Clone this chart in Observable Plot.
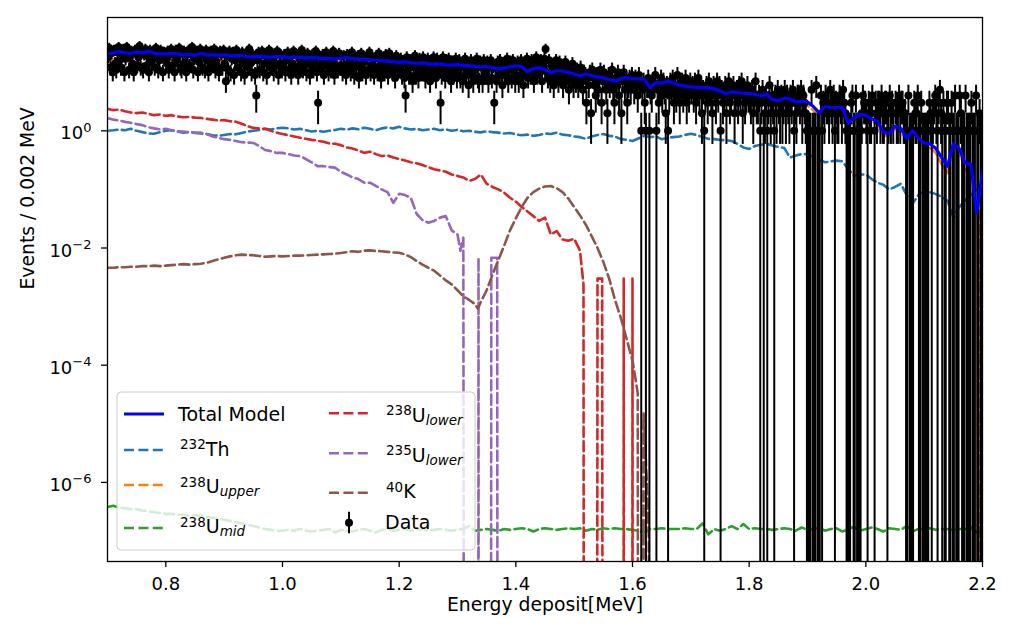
<!DOCTYPE html>
<html><head><meta charset="utf-8">
<script src="https://cdn.jsdelivr.net/npm/d3@7"></script>
<script src="https://cdn.jsdelivr.net/npm/@observablehq/plot@0.6"></script>
<style>
body{margin:0;background:#fff;font-family:"DejaVu Sans",sans-serif;}
#wrap{position:relative;width:1010px;height:631px;}
#legend{position:absolute;left:0;top:0;pointer-events:none;}
</style></head><body><div id="wrap"></div>
<script>
// ---------- data ----------
const energyGrid = d3.range(151).map(i => Math.round((0.70 + 0.01 * i) * 100) / 100);

const totalModel = [
 20.5,21.5,22.5,21.5,21,22,21.5,23,21,20.5,
 20.3,21,20.5,19.8,20.2,19.5,20.8,20,19.8,19.6,
 19.8,19.2,19,19.3,18.5,18.3,18.6,18.3,18.0,18.4,
 18.2,17.8,18.1,17.8,17.5,17.9,17.4,17.0,17.2,16.7,
 17.3,17.8,17.0,16.5,16.8,16.2,16.0,15.8,15.5,15.2,
 14.7,15.0,14.5,14.2,14.4,13.9,13.7,13.9,13.4,13.2,
 13.5,13.0,12.9,12.6,12.4,12.5,12.0,11.3,11.8,12.4,
 12.9,12.5,10.2,11.5,12.0,11.0,9.9,10.6,10.4,10.0,
 9.2,8.7,9.3,8.8,8.3,8.0,7.5,7.1,7.8,8.1,
 7.8,7.7,7.6,5.5,6.6,6.5,7.0,6.6,6.0,5.8,
 5.6,5.5,5.5,5.4,5.2,4.8,4.3,4.6,4.5,4.4,
 4.3,4.2,4.0,4.2,3.4,3.3,3.6,3.5,3.1,3.2,
 3.1,2.6,2.05,2.6,2.5,2.5,2.5,1.35,1.7,1.9,
 1.85,1.6,1.45,0.95,0.9,1.2,1.1,0.75,1.0,0.75,
 0.62,0.6,0.5,0.35,0.25,0.6,0.5,0.28,0.27,0.04,
 0.2];

const th232 = [
 1.00,1.02,1.05,1.02,1.08,1.0,0.95,0.9,0.89,0.95,
 1.0,1.02,0.97,0.93,0.95,0.92,0.9,0.88,0.84,0.82,
 0.85,0.88,0.87,0.92,0.97,1.0,1.03,1.08,1.05,1.1,
 1.13,1.1,1.05,1.08,1.02,0.97,1.0,0.96,1.0,1.03,
 1.08,1.05,1.1,1.06,1.13,1.08,1.02,1.1,1.14,1.1,
 1.17,1.1,1.05,1.08,1.02,1.05,1.08,1.02,1.06,1.0,
 1.04,0.98,1.0,0.96,0.94,0.98,0.95,0.93,0.9,0.92,
 0.87,0.84,0.86,0.82,0.85,0.9,0.88,0.93,0.86,0.84,
 0.8,0.78,0.73,0.8,0.85,0.88,0.82,0.8,0.72,0.7,
 0.67,0.74,0.82,0.78,0.8,0.72,0.76,0.78,0.8,0.85,
 0.89,0.85,0.78,0.73,0.72,0.7,0.69,0.67,0.6,0.52,
 0.49,0.55,0.58,0.6,0.56,0.53,0.51,0.35,0.38,0.4,
 0.4,0.36,0.32,0.29,0.3,0.31,0.3,0.22,0.17,0.18,
 0.18,0.15,0.13,0.12,0.10,0.11,0.125,0.08,0.057,0.08,
 0.095,0.09,0.083,0.075,0.064,0.033,0.05,0.064,0.08,0.1,
 0.09];

// 238U upper: 0.70 .. 2.17 on the grid, then a tail
const u238Upper = [
 15.5,16.7,17.6,16.9,16.5,17.7,17.2,19.0,17.2,16.6,
 16.4,17.1,16.8,16.2,16.6,16.0,17.3,16.6,16.6,16.5,
 16.7,16.2,16.0,16.4,15.7,15.6,15.9,15.7,15.5,15.9,
 15.8,15.5,15.9,15.6,15.4,15.9,15.5,15.1,15.3,14.8,
 15.4,16.0,15.2,14.8,15.1,14.5,14.5,14.2,13.9,13.7,
 13.1,13.5,13.1,12.8,13.1,12.6,12.4,12.6,12.1,12.0,
 12.3,11.9,11.8,11.5,11.3,11.4,10.9,10.3,10.8,11.4,
 11.9,11.6,9.2,10.5,11.0,10.0,8.9,9.5,9.4,9.1,
 8.3,7.9,8.5,8.0,7.4,7.1,6.7,6.3,7.1,7.4,
 7.1,7.0,6.8,4.7,5.8,5.8,6.2,5.8,5.2,4.9,
 4.7,4.65,4.7,4.7,4.5,4.1,3.6,3.9,3.9,3.9,
 3.8,3.65,3.4,3.6,2.85,2.8,3.1,3.15,2.7,2.8,
 2.7,2.25,1.73,2.3,2.2,2.2,2.2,1.13,1.53,1.72,
 1.67,1.45,1.32,0.83,0.8,1.09,0.98,0.67,0.94,0.67,
 0.52,0.51,0.42,0.27,0.19,0.57,0.45,0.22];
const u238UpperTailX = [2.175, 2.179, 2.194, 2.196, 2.2];
const u238UpperTailY = [0.2, 0, 0, 0.1, 0.12];

const u238Mid = [
 3.8e-7,4.0e-7,3.7e-7,3.6e-7,3.5e-7,3.5e-7,3.3e-7,3.2e-7,3.1e-7,3.0e-7,
 2.9e-7,2.9e-7,2.8e-7,2.8e-7,2.7e-7,2.75e-7,2.7e-7,2.6e-7,2.5e-7,2.4e-7,
 2.3e-7,2.2e-7,2.1e-7,2.0e-7,1.9e-7,1.8e-7,1.7e-7,1.6e-7,1.55e-7,1.5e-7,
 1.5e-7,1.55e-7,1.5e-7,1.6e-7,1.5e-7,1.45e-7,1.5e-7,1.55e-7,1.6e-7,1.4e-7,
 1.55e-7,1.5e-7,1.45e-7,1.55e-7,1.6e-7,1.5e-7,1.4e-7,1.55e-7,1.6e-7,1.5e-7,
 1.55e-7,1.6e-7,1.5e-7,1.55e-7,1.6e-7,1.5e-7,1.55e-7,1.6e-7,1.55e-7,1.5e-7,
 1.55e-7,1.6e-7,1.8e-7,1.5e-7,1.55e-7,1.6e-7,1.55e-7,1.5e-7,1.6e-7,1.55e-7,
 1.6e-7,1.65e-7,1.6e-7,1.45e-7,1.6e-7,1.65e-7,1.6e-7,1.55e-7,1.6e-7,1.65e-7,
 1.6e-7,1.65e-7,1.5e-7,1.6e-7,1.55e-7,1.65e-7,1.6e-7,1.65e-7,1.6e-7,1.6e-7,
 1.55e-7,1.5e-7,1.4e-7,1.6e-7,1.6e-7,1.65e-7,1.6e-7,1.6e-7,1.6e-7,1.65e-7,
 1.6e-7,1.6e-7,2.0e-7,1.3e-7,1.6e-7,1.5e-7,1.6e-7,1.8e-7,1.6e-7,1.95e-7,
 1.6e-7,1.65e-7,1.6e-7,1.6e-7,1.55e-7,1.6e-7,1.65e-7,1.6e-7,1.5e-7,1.7e-7,
 1.55e-7,1.6e-7,1.7e-7,1.5e-7,1.6e-7,1.65e-7,1.45e-7,1.6e-7,1.75e-7,1.5e-7,
 1.6e-7,1.7e-7,1.6e-7,1.45e-7,1.65e-7,1.6e-7,1.55e-7,1.8e-7,1.45e-7,1.6e-7,
 1.6e-7,1.65e-7,1.55e-7,1.6e-7,1.6e-7,1.55e-7,1.6e-7,1.6e-7,1.7e-7,1.4e-7,
 1.5e-7];

// 238U lower: 0.70 .. 1.51 on the grid, then a tail
const u238Lower = [
 2.37,2.25,2.3,2.15,2.05,2.0,2.05,1.95,1.85,1.9,
 1.8,1.85,1.75,1.7,1.72,1.68,1.66,1.6,1.55,1.5,
 1.52,1.45,1.43,1.32,1.2,1.12,1.1,1.08,1.0,0.93,
 0.88,0.84,0.8,0.76,0.73,0.7,0.68,0.65,0.61,0.6,
 0.57,0.52,0.5,0.46,0.42,0.44,0.4,0.37,0.38,0.35,
 0.33,0.31,0.29,0.28,0.26,0.24,0.22,0.21,0.2,0.18,
 0.17,0.16,0.14,0.15,0.18,0.125,0.11,0.1,0.088,0.072,
 0.062,0.05,0.042,0.035,0.029,0.033,0.017,0.0195,0.014,0.0133,
 0.0144,0.009];
const u238LowerTailX = [1.516,1.518,1.538,1.540,1.548,1.550,1.584,1.585,1.586,1.599,1.600,1.601,2.2];
const u238LowerTailY = [0.0024,0,0,0.003,0.003,0,0,0.003,0,0,0.003,0,0];

// 235U lower: 0.70 .. 1.30 on the grid, then a tail
const u235Lower = [
 1.66,1.55,1.5,1.42,1.37,1.3,1.25,1.15,1.1,1.06,
 1.08,1.02,0.98,0.97,0.95,0.93,0.93,0.88,0.8,0.76,
 0.72,0.7,0.67,0.64,0.63,0.62,0.55,0.47,0.45,0.42,
 0.42,0.4,0.38,0.37,0.33,0.29,0.25,0.25,0.24,0.235,
 0.2,0.18,0.16,0.15,0.13,0.13,0.115,0.1,0.09,0.059,
 0.084,0.08,0.072,0.038,0.03,0.027,0.029,0.033,0.035,0.02,
 0.017];
const u235LowerTailX = [1.305,1.310,1.313,1.335,1.336,1.337,1.356,1.358,1.368,1.370,2.2];
const u235LowerTailY = [0.009,0.015,0,0,0.0068,0,0,0.0068,0.0068,0,0];

// 40K: 0.70 .. 1.60 on the grid, one extra point at the dip, then a tail
const k40 = [
 0.0046,0.0046,0.0047,0.0047,0.0048,0.0048,0.0049,0.0049,0.005,0.0049,
 0.005,0.0051,0.0052,0.0053,0.0052,0.0053,0.0054,0.0056,0.006,0.0064,
 0.0068,0.0072,0.0075,0.0077,0.0076,0.0075,0.0073,0.0071,0.0072,0.0073,
 0.0072,0.0073,0.0074,0.0074,0.0075,0.0076,0.0077,0.0078,0.0079,0.008,
 0.0082,0.0085,0.0088,0.0086,0.009,0.0091,0.0089,0.0088,0.0086,0.0084,
 0.0083,0.0078,0.007,0.006,0.0052,0.0046,0.0041,0.0034,0.0028,0.0024,
 0.0019,0.0015,0.0013,0.0011,0.0012,0.0019,0.0035,0.0062,0.011,0.02,
 0.032,0.05,0.072,0.09,0.103,0.112,0.114,0.105,0.09,0.07,
 0.05,0.036,0.025,0.016,0.01,0.0058,0.003,0.0013,0.00064,0.00028,
 0.00012];
const k40ExtraX = [1.335];
const k40ExtraY = [0.00092];
const k40TailX = [1.605,1.609,1.611,1.617,1.619,1.622,1.625,1.628,1.631,2.2];
const k40TailY = [6e-5,3.3e-5,0,0,1.5e-5,4e-6,8e-7,1.2e-7,0,0];

// observed counts per 0.002 MeV bin, 0.700 .. 2.200 (750 bins, 50 per row)
const dataBinStart = 0.7, dataBinWidth = 0.002;
const dataCounts = [
 18,26,12,21,10,24,14,11,22,27,16,12,21,25,10,17,27,19,11,19,23,14,10,24,21,13,18,28,12,22,11,20,25,13,19,10,24,15,21,23,12,26,18,11,16,24,20,10,22,16,
 15,23,11,20,25,13,21,10,24,16,19,26,12,11,21,23,15,10,20,24,13,21,27,11,17,20,23,10,15,25,21,12,19,11,24,16,10,22,23,13,18,25,11,15,21,10,23,20,12,24,
 14,7,20,11,23,10,17,22,9,16,24,12,19,17,10,22,14,9,21,17,12,25,14,10,20,17,9,4,16,22,11,19,23,10,14,20,9,17,24,12,16,21,10,19,13,23,9,14,20,11,
 13,20,10,16,22,11,19,9,14,23,12,11,20,9,17,14,24,11,13,19,10,21,16,9,13,20,11,15,23,10,3,19,13,11,20,9,16,22,13,10,19,11,14,23,9,13,19,11,21,12,
 13,10,19,12,9,20,14,16,10,22,12,9,18,13,19,8,12,21,10,16,15,9,19,11,22,10,13,17,9,12,19,10,21,13,8,17,12,10,20,14,9,21,12,18,10,15,8,19,12,11,
 11,17,9,14,8,4,18,11,9,16,14,7,12,19,9,14,8,17,11,10,18,13,8,12,17,9,7,15,11,18,10,8,17,11,14,3,9,18,12,8,16,10,17,11,7,15,9,13,17,8,
 10,16,8,13,7,12,17,9,13,6,11,16,9,7,14,11,17,8,7,15,12,7,16,9,11,15,7,12,16,8,13,3,12,7,15,9,16,10,6,14,9,12,17,7,11,15,8,16,11,7,
 9,15,7,12,16,9,6,14,10,17,8,12,9,16,13,7,12,18,9,15,11,16,7,13,17,25,10,8,16,7,13,10,6,9,16,11,7,15,9,12,6,9,15,7,12,5,11,8,14,6,
 9,7,11,6,9,12,7,5,10,9,3,8,6,10,2,11,8,6,4,9,5,8,11,3,7,10,8,5,2,9,6,8,11,5,3,8,6,10,4,8,2,7,10,5,8,3,6,8,5,9,
 7,5,8,6,4,9,6,1,5,7,3,1,6,8,1,5,4,7,6,9,1,5,3,6,8,4,7,5,2,6,1,4,7,5,8,3,6,4,9,5,3,6,7,4,5,8,3,6,4,7,
 5,6,4,7,3,5,8,4,6,2,5,1,4,6,3,7,5,4,2,6,5,3,7,4,6,1,5,3,4,6,2,5,7,3,4,5,6,2,4,5,3,6,4,7,2,5,3,4,6,4,
 4,3,5,2,4,7,3,3,4,1,3,5,1,2,4,1,3,6,2,4,3,1,4,2,5,3,2,4,2,3,5,2,4,3,2,4,3,5,1,3,2,4,4,3,5,2,4,3,2,1,
 1,1,1,5,1,1,1,6,1,1,1,4,1,3,2,4,3,3,2,5,3,2,4,1,3,2,2,4,3,2,5,3,2,1,1,1,1,3,4,1,1,4,1,1,1,1,2,4,3,3,
 2,1,3,2,2,4,0,1,3,2,3,3,2,4,2,2,3,3,1,2,4,2,3,2,0,3,2,2,4,2,3,3,2,2,1,1,4,1,1,1,1,3,2,2,4,1,1,3,1,1,
 1,1,1,1,3,2,1,2,3,4,2,1,3,5,2,1,3,1,1,3,3,1,1,3,1,1,4,1,1,1,4,2,1,1,1,4,1,1,1,1,3,1,1,1,4,1,1,2,1,1];

const xTicks = [0.8, 1.0, 1.2, 1.4, 1.6, 1.8, 2.0, 2.2];
const yTicks = [1e-6, 1e-4, 1e-2, 1];

// ---------- build tables ----------
const FLOOR = 1e-30; // zero on a log axis: drawn straight down out of the frame
function curve(xs, ys) { return ys.map((y, i) => ({x: xs[i], y: y > 0 ? y : FLOOR})); }
function gridPlus(main, tx, ty) {
  return curve(energyGrid.slice(0, main.length).concat(tx), main.concat(ty)).sort((a, b) => a.x - b.x);
}
const totalRows = curve(energyGrid, totalModel);
const thRows = curve(energyGrid, th232);
const upperRows = gridPlus(u238Upper, u238UpperTailX, u238UpperTailY);
const midRows = curve(energyGrid, u238Mid);
const lowerRows = gridPlus(u238Lower, u238LowerTailX, u238LowerTailY);
const u235Rows = gridPlus(u235Lower, u235LowerTailX, u235LowerTailY);
const k40Rows = gridPlus(k40, k40ExtraX.concat(k40TailX), k40ExtraY.concat(k40TailY));
const pts = dataCounts.map((n, i) => ({x: dataBinStart + dataBinWidth * (i + 0.5), n})).filter(d => d.n > 0);

const dash = {strokeWidth: 2.6, strokeDasharray: "10,4.4", clip: true};
const chart = Plot.plot({
  width: 1010, height: 631,
  marginLeft: 107, marginRight: 28, marginTop: 17, marginBottom: 70,
  style: {fontFamily: '"DejaVu Sans", sans-serif', fontSize: "18px", color: "black", background: "white"},
  x: {domain: [0.7, 2.2]},
  y: {type: "log", domain: [4.47e-8, 85.8]},
  marks: [
    Plot.line(thRows, {x: "x", y: "y", stroke: "#1f77b4", ...dash}),
    Plot.line(upperRows, {x: "x", y: "y", stroke: "#ff7f0e", ...dash}),
    Plot.line(midRows, {x: "x", y: "y", stroke: "#2ca02c", ...dash}),
    Plot.line(lowerRows, {x: "x", y: "y", stroke: "#d62728", ...dash}),
    Plot.line(u235Rows, {x: "x", y: "y", stroke: "#9467bd", ...dash}),
    Plot.line(k40Rows, {x: "x", y: "y", stroke: "#8c564b", ...dash}),
    Plot.ruleX(pts, {x: "x", y1: d => Math.max(d.n - Math.sqrt(d.n), FLOOR), y2: d => d.n + Math.sqrt(d.n), stroke: "black", strokeWidth: 2, clip: true}),
    Plot.dot(pts, {x: "x", y: "n", r: 4, fill: "black", clip: true}),
    Plot.line(totalRows, {x: "x", y: "y", stroke: "blue", strokeWidth: 3.2, clip: true}),
    Plot.frame({stroke: "black", strokeWidth: 1.3}),
    Plot.axisX({ticks: xTicks, tickFormat: d3.format(".1f"), tickSize: 6, tickPadding: 10, label: null, strokeWidth: 1.3}),
    Plot.axisY({ticks: yTicks, tickFormat: d => "10^" + Math.round(Math.log10(d)), tickSize: 6, tickPadding: 10, label: null, strokeWidth: 1.3}),
    Plot.text(["Energy deposit[MeV]"], {text: d => d, frameAnchor: "bottom", lineAnchor: "middle", dy: 43, fontSize: 18.8}),
    Plot.text(["Events / 0.002 MeV"], {text: d => d, frameAnchor: "left", lineAnchor: "middle", dx: -80, rotate: -90, fontSize: 18.8})
  ]
});
const wrap = document.getElementById("wrap");
wrap.appendChild(chart);

const ns = "http://www.w3.org/2000/svg";
function el(tag, attrs, parent) {
  const e = document.createElementNS(ns, tag);
  for (const k in attrs) e.setAttribute(k, attrs[k]);
  if (parent) parent.appendChild(e);
  return e;
}
// y tick labels as 10 with a raised exponent
chart.querySelectorAll("text").forEach(t => {
  const s = t.textContent;
  if (!s.includes("^")) return;
  const [b, e] = s.split("^");
  t.textContent = "";
  t.removeAttribute("dy");
  t.setAttribute("y", "8.5");
  const t1 = el("tspan", {}, t); t1.textContent = b;
  const t2 = el("tspan", {dy: "-7.5", "font-size": "13"}, t); t2.textContent = e.replace("-", "\u2212");
});

// ---------- legend ----------
const legendItems = [
  {hx: 124, hy: 414, color: "blue", solid: true, tx: 178, ty: 420.7, parts: [["Total Model", "n"]]},
  {hx: 124, hy: 450, color: "#1f77b4", tx: 180, ty: 456, parts: [["232", "sup"], ["Th", "n"]]},
  {hx: 124, hy: 485, color: "#ff7f0e", tx: 180, ty: 493.3, parts: [["238", "sup"], ["U", "n"], ["upper", "sub"]]},
  {hx: 124, hy: 528, color: "#2ca02c", tx: 180, ty: 533.3, parts: [["238", "sup"], ["U", "n"], ["mid", "sub"]]},
  {hx: 329, hy: 413.3, color: "#d62728", tx: 386, ty: 421.7, parts: [["238", "sup"], ["U", "n"], ["lower", "sub"]]},
  {hx: 329, hy: 453.3, color: "#9467bd", tx: 386, ty: 461.7, parts: [["235", "sup"], ["U", "n"], ["lower", "sub"]]},
  {hx: 329, hy: 492.7, color: "#8c564b", tx: 386, ty: 498.3, parts: [["40", "sup"], ["K", "n"]]},
  {hx: 329, hy: 522.7, data: true, tx: 385, ty: 529.3, parts: [["Data", "n"]]}
];
const lg = el("svg", {id: "legend", width: 1010, height: 631, "font-family": '"DejaVu Sans", sans-serif', "font-size": 19}, wrap);
el("rect", {x: 117, y: 392, width: 358, height: 158, rx: 4, fill: "white", "fill-opacity": 0.8, stroke: "#cccccc", "stroke-width": 1}, lg);
legendItems.forEach(it => {
  if (it.data) {
    el("line", {x1: it.hx + 20, x2: it.hx + 20, y1: it.hy - 11, y2: it.hy + 10.6, stroke: "black", "stroke-width": 2}, lg);
    el("circle", {cx: it.hx + 20, cy: it.hy, r: 4, fill: "black"}, lg);
  } else {
    const a = {x1: it.hx, x2: it.hx + 40, y1: it.hy, y2: it.hy, stroke: it.color, "stroke-width": it.solid ? 3.2 : 2.6};
    if (!it.solid) a["stroke-dasharray"] = "10,4.4";
    el("line", a, lg);
  }
  const t = el("text", {x: it.tx, y: it.ty, fill: "black"}, lg);
  let off = 0;
  it.parts.forEach(([s, kind]) => {
    const target = kind === "sup" ? -6.7 : kind === "sub" ? 3 : 0;
    const attrs = {dy: target - off};
    if (kind !== "n") attrs["font-size"] = 13.5;
    if (kind === "sub") attrs["font-style"] = "italic";
    const sp = el("tspan", attrs, t);
    sp.textContent = s;
    off = target;
  });
});
</script></body></html>
